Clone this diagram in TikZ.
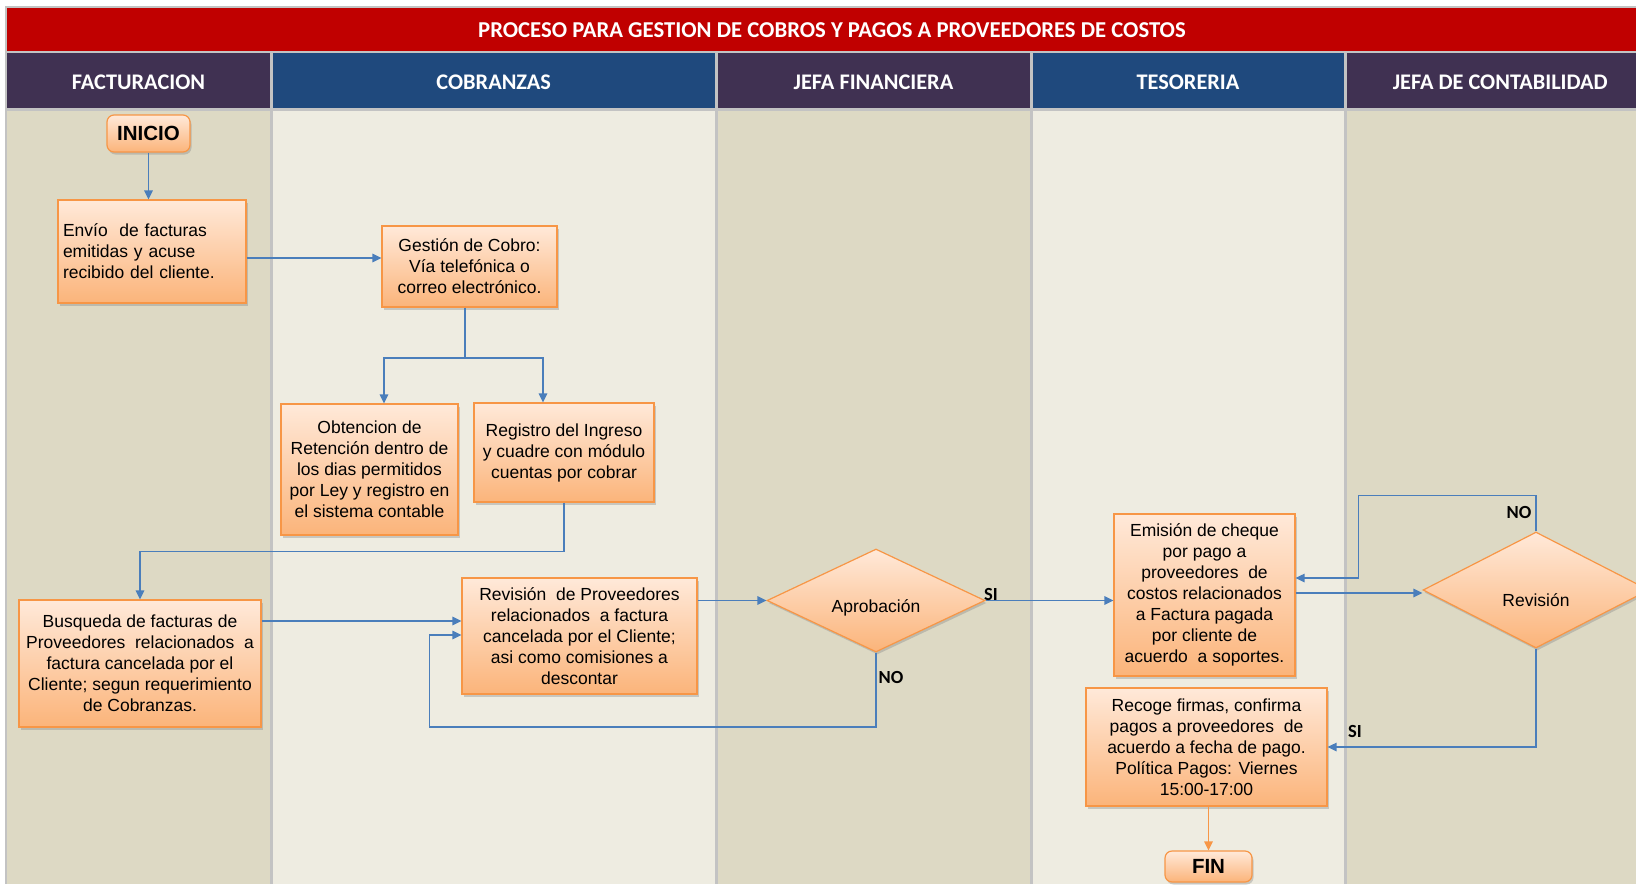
\documentclass[tikz,border=0pt]{standalone}
\usepackage{fontspec}
\setmainfont{Liberation Sans}
\newfontfamily\calib{Carlito}
\usetikzlibrary{arrows.meta,shapes.geometric,shadows}

\definecolor{titlered}{HTML}{C00000}
\definecolor{hdpurple}{HTML}{403152}
\definecolor{hdblue}{HTML}{1F497D}
\definecolor{lanetan}{HTML}{DDD9C4}
\definecolor{lanelight}{HTML}{EEECE1}
\definecolor{gridgray}{HTML}{C3C3C3}
\definecolor{boxtop}{HTML}{FFE9D9}
\definecolor{boxbot}{HTML}{FBB47A}
\definecolor{boxline}{HTML}{F79646}
\definecolor{flowblue}{HTML}{4A7EBB}

\tikzset{
  procbox/.style={rectangle, draw=boxline, line width=1.2pt,
    top color=boxtop, bottom color=boxbot,
    drop shadow={shadow xshift=1.5pt, shadow yshift=-2.5pt, opacity=.35},
    inner sep=0pt, align=center, font=\fontsize{17.5}{21}\selectfont},
  termbox/.style={procbox, rounded corners=7pt, font=\fontsize{20.5}{24}\selectfont\bfseries},
  decision/.style={procbox, diamond, aspect=2, text depth=0pt},
  flowline/.style={draw=flowblue, line width=1.3pt},
  flowarrow/.style={flowline, -{Triangle[length=9pt,width=8.5pt]}},
  yesno/.style={font=\calib\fontsize{18.5}{20}\selectfont\bfseries, inner sep=0pt},
  lanehead/.style={text=white, font=\calib\fontsize{22.3}{24}\selectfont\bfseries, inner sep=0pt},
}

\begin{document}
\begin{tikzpicture}[x=1pt,y=-1pt]
\useasboundingbox (0,0) rectangle (1636,884);
\clip (0,0) rectangle (1636,884);
\fill[white] (0,0) rectangle (1636,884);
\fill[gridgray] (5,6) rectangle (1660,884);

% title bar
\fill[titlered] (7,8) rectangle (1654,51);
\node[text=white, font=\calib\fontsize{22.7}{24}\selectfont\bfseries, inner sep=0pt]
  (title) at (832,30) {PROCESO PARA GESTION DE COBROS Y PAGOS A PROVEEDORES DE COSTOS};

% swimlane header cells
\fill[hdpurple] (7,53) rectangle (270,108);
\fill[hdblue]   (273,53) rectangle (714.5,108);
\fill[hdpurple] (717.5,53) rectangle (1029.5,108);
\fill[hdblue]   (1032.5,53) rectangle (1343.5,108);
\fill[hdpurple] (1346.5,53) rectangle (1654,108);

% swimlane bodies
\fill[lanetan]   (7,111) rectangle (270,884);
\fill[lanelight] (273,111) rectangle (714.5,884);
\fill[lanetan]   (717.5,111) rectangle (1029.5,884);
\fill[lanelight] (1032.5,111) rectangle (1343.5,884);
\fill[lanetan]   (1346.5,111) rectangle (1654,884);

% swimlane titles
\node[lanehead] (hFact) at (138.5,82.5)  {FACTURACION};
\node[lanehead] (hCob)  at (493.75,82.5) {COBRANZAS};
\node[lanehead] (hJefa) at (873.5,82.5)  {JEFA FINANCIERA};
\node[lanehead] (hTes)  at (1188,82.5)   {TESORERIA};
\node[lanehead] (hCont) at (1500.25,82.5) {JEFA DE CONTABILIDAD};

% process steps
\node[termbox, minimum width=83pt, minimum height=37pt] (inicio) at (148.5,133.5) {INICIO};
\node[procbox, minimum width=188pt, minimum height=103pt, text width=178pt,
      inner xsep=5pt, align=left] (envio) at (152,251.5)
  {Envío~ de facturas\\emitidas y acuse\\recibido del cliente.};
\node[procbox, minimum width=175pt, minimum height=81pt] (gestion) at (469.5,266.5)
  {Gestión de Cobro:\\Vía telefónica o\\correo electrónico.};
\node[procbox, minimum width=177pt, minimum height=131pt] (obtencion) at (369.5,469.5)
  {Obtencion de\\Retención dentro de\\los dias permitidos\\por Ley y registro en\\el sistema contable};
\node[procbox, minimum width=180pt, minimum height=99pt] (registro) at (564,452.5)
  {Registro del Ingreso\\y cuadre con módulo\\cuentas por cobrar};
\node[procbox, minimum width=242pt, minimum height=127pt] (busqueda) at (140,663.5)
  {Busqueda de facturas de\\Proveedores~ relacionados~ a\\factura cancelada por el\\Cliente; segun requerimiento\\de Cobranzas.};
\node[procbox, minimum width=235pt, minimum height=116pt] (revprov) at (579.5,636)
  {Revisión~ de Proveedores\\relacionados~ a factura\\cancelada por el Cliente;\\asi como comisiones a\\descontar};
\node[decision, minimum width=218pt, minimum height=103pt, text height=23pt] (aprob) at (876,600.5)
  {Aprobación};
\node[procbox, minimum width=181pt, minimum height=162pt] (emision) at (1204.5,595)
  {Emisión de cheque\\por pago a\\proveedores~ de\\costos relacionados\\a Factura pagada\\por cliente de\\acuerdo~ a soportes.};
\node[decision, minimum width=226pt, minimum height=116pt, text height=32pt] (revision) at (1536,590)
  {Revisión};
\node[procbox, minimum width=241pt, minimum height=118pt] (recoge) at (1206.5,747)
  {Recoge firmas, confirma\\pagos a proveedores~ de\\acuerdo a fecha de pago.\\Política Pagos: Viernes\\15:00-17:00};
\node[termbox, minimum width=87pt, minimum height=31pt] (fin) at (1208.5,866.5) {FIN};

% connectors
\draw[flowarrow] (inicio.south) -- (inicio.south |- envio.north);
\draw[flowarrow] ([yshift=-6.5pt]envio.east) -- ([yshift=-6.5pt]envio.east -| gestion.west);
\coordinate (split) at (465,358);
\draw[flowline] ([xshift=-4.5pt]gestion.south) -- (split);
\draw[flowarrow] (split) -| ([xshift=14.5pt]obtencion.north);
\draw[flowarrow] (split) -| ([xshift=-21pt]registro.north);
\draw[flowarrow] (registro.south) -- ++(0,49) -| (busqueda.north);
\draw[flowarrow] ([yshift=42.5pt]busqueda.east) -- ([yshift=42.5pt]busqueda.east -| revprov.west);
\draw[flowarrow] (revprov.east |- aprob.west) -- (aprob.west);
\draw[flowarrow] (aprob.south) |- ([xshift=-32pt,yshift=-91pt]revprov.west)
  |- ([yshift=1pt]revprov.west);
\draw[flowarrow] (aprob.east) -- (aprob.east -| emision.west);
\draw[flowarrow] ([yshift=-3pt]emision.east |- revision.west) -- ([yshift=-3pt]revision.west);
\draw[flowarrow] (revision.north) -- ++(0,-36) -| ([xshift=63pt,yshift=17pt]emision.east)
  -- ([yshift=17pt]emision.east);
\draw[flowarrow] (revision.south) |- (recoge.east);
\draw[flowarrow, draw=boxline, fill=boxline] (fin.north |- recoge.south) -- (fin.north);

% decision labels
\node[yesno] (noA) at (891,677) {NO};
\node[yesno] (siA) at (991,594) {SI};
\node[yesno] (noR) at (1519,512) {NO};
\node[yesno] (siR) at (1355,731) {SI};
\end{tikzpicture}
\end{document}
